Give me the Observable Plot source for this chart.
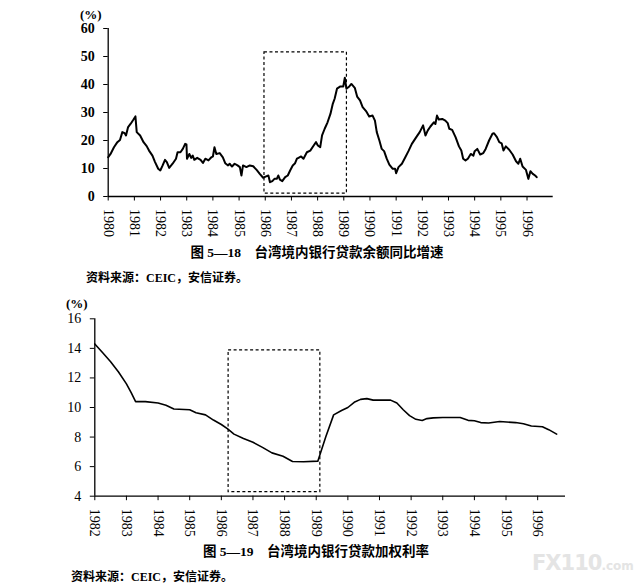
<!DOCTYPE html>
<html>
<head>
<meta charset="utf-8">
<script src="https://cdn.jsdelivr.net/npm/d3@7"></script>
<script src="https://cdn.jsdelivr.net/npm/@observablehq/plot@0.6"></script>
<style>
  body { margin: 0; background: #fff; }
  #wrap { position: relative; width: 643px; height: 585px; background: #fff; overflow: hidden; }
  .abs { position: absolute; white-space: nowrap; color: #000; }
  .unit { font-family: "Liberation Serif", "Times New Roman", Times, "DejaVu Serif", serif; font-weight: bold; font-size: 13px; }
  .title { font-family: "Liberation Serif", "Times New Roman", "Noto Sans CJK SC", serif; font-weight: bold; font-size: 13.5px; }
  .src { font-family: "Liberation Serif", "Times New Roman", "Noto Sans CJK SC", serif; font-weight: bold; font-size: 12px; }
  .wm { font-family: "DejaVu Sans", sans-serif; font-weight: bold; color: #e4e4e4; }
  .wm .big { font-size: 21px; letter-spacing: -1px; }
  .wm .small { font-size: 12px; }
  svg { overflow: visible; }
</style>
</head>
<body>
<div id="wrap"></div>
<script>
// ---------- Chart 1: 台湾境内银行贷款余额同比增速 ----------
const years1 = [1980.00,1980.09,1980.22,1980.35,1980.45,1980.54,1980.63,1980.68,1980.76,1980.86,1980.96,1981.04,1981.09,1981.22,1981.35,1981.47,1981.56,1981.69,1981.79,1981.91,1981.99,1982.08,1982.17,1982.24,1982.33,1982.46,1982.59,1982.65,1982.76,1982.85,1982.94,1982.99,1983.01,1983.10,1983.17,1983.23,1983.29,1983.40,1983.53,1983.62,1983.71,1983.83,1983.94,1984.00,1984.06,1984.13,1984.26,1984.38,1984.47,1984.58,1984.64,1984.73,1984.83,1984.94,1985.03,1985.09,1985.15,1985.28,1985.41,1985.54,1985.67,1985.79,1985.92,1986.01,1986.12,1986.18,1986.27,1986.35,1986.44,1986.50,1986.56,1986.65,1986.76,1986.86,1986.95,1987.05,1987.14,1987.21,1987.27,1987.37,1987.46,1987.59,1987.72,1987.85,1987.94,1988.01,1988.10,1988.17,1988.27,1988.38,1988.49,1988.58,1988.65,1988.74,1988.87,1988.98,1989.04,1989.10,1989.21,1989.29,1989.42,1989.51,1989.62,1989.72,1989.85,1989.97,1990.10,1990.19,1990.26,1990.36,1990.45,1990.54,1990.64,1990.74,1990.87,1990.96,1991.00,1991.09,1991.22,1991.35,1991.47,1991.60,1991.77,1991.90,1992.03,1992.12,1992.21,1992.31,1992.44,1992.50,1992.56,1992.63,1992.76,1992.88,1992.97,1993.03,1993.14,1993.27,1993.40,1993.49,1993.56,1993.65,1993.74,1993.85,1993.95,1994.00,1994.10,1994.21,1994.33,1994.42,1994.55,1994.68,1994.74,1994.85,1994.94,1995.03,1995.10,1995.19,1995.32,1995.45,1995.58,1995.67,1995.74,1995.83,1995.96,1996.05,1996.13,1996.22,1996.31,1996.37];
const values1 = [14.0,15.2,17.6,19.4,20.2,23.0,22.6,21.8,24.8,26.0,27.4,28.6,23.0,21.8,19.4,18.0,16.4,14.6,12.3,9.9,9.3,11.1,13.1,12.3,10.2,11.7,13.5,15.8,15.8,17.0,18.8,18.6,13.5,15.2,13.8,14.6,13.1,13.8,13.1,12.0,13.5,12.9,14.0,14.3,17.6,15.2,15.5,14.0,11.9,11.1,11.7,10.7,11.7,11.1,10.5,7.5,11.1,10.5,11.1,10.8,9.5,8.1,6.7,7.1,7.5,5.1,5.5,6.3,6.3,7.5,6.0,5.5,6.9,7.5,9.3,11.1,11.9,13.5,13.8,14.3,13.5,15.8,16.4,18.2,19.4,18.2,17.6,21.8,24.2,26.5,29.5,33.1,34.9,38.5,39.3,39.3,42.4,38.5,39.3,40.2,38.8,35.7,34.3,31.9,30.5,28.6,28.9,27.1,23.0,20.0,17.0,16.2,13.5,11.4,9.9,9.9,8.3,10.5,11.7,14.0,16.2,18.8,21.2,23.0,25.4,21.8,23.6,25.0,26.5,25.9,28.9,27.5,27.7,27.1,26.2,24.2,23.8,21.2,17.9,16.4,13.5,12.9,13.5,15.2,14.6,16.2,17.0,15.0,15.5,17.0,20.0,22.4,22.6,21.2,19.4,19.0,16.4,17.9,16.7,15.0,12.6,11.7,13.5,10.7,9.5,6.3,9.0,8.1,7.5,6.9];
const xTicks1 = [1980,1981,1982,1983,1984,1985,1986,1987,1988,1989,1990,1991,1992,1993,1994,1995,1996];
const yTicks1 = [0,10,20,30,40,50,60];
const xDomain1 = [1980, 1997];
const yDomain1 = [0, 60];
const box1 = {x1: [1985.97], x2: [1989.12], y1: [1.0], y2: [51.5]};

// ---------- Chart 2: 台湾境内银行贷款加权利率 ----------
const years2 = [1982.0,1982.25,1982.5,1982.75,1983.0,1983.15,1983.29,1983.6,1984.0,1984.25,1984.5,1985.0,1985.2,1985.5,1985.75,1986.0,1986.2,1986.4,1986.7,1987.0,1987.3,1987.6,1987.95,1988.25,1988.6,1989.05,1989.3,1989.55,1989.8,1990.0,1990.2,1990.4,1990.6,1990.8,1991.0,1991.35,1991.55,1991.75,1991.95,1992.15,1992.35,1992.5,1992.7,1993.0,1993.55,1993.8,1994.0,1994.2,1994.45,1994.8,1995.3,1995.55,1995.8,1996.15,1996.35,1996.6];
const values2 = [14.3,13.7,13.1,12.4,11.6,11.0,10.4,10.4,10.3,10.15,9.9,9.85,9.65,9.5,9.15,8.85,8.55,8.2,7.9,7.65,7.3,6.93,6.7,6.35,6.33,6.37,8.0,9.5,9.8,10.0,10.35,10.55,10.6,10.5,10.5,10.5,10.3,9.85,9.45,9.2,9.12,9.25,9.3,9.32,9.32,9.13,9.1,8.98,8.95,9.05,8.98,8.9,8.75,8.7,8.5,8.2];
const xTicks2 = [1982,1983,1984,1985,1986,1987,1988,1989,1990,1991,1992,1993,1994,1995,1996];
const yTicks2 = [4,6,8,10,12,14,16];
const xDomain2 = [1982, 1996.88];
const yDomain2 = [4, 16];
const box2 = {x1: [1986.23], x2: [1989.13], y1: [4.27], y2: [13.86]};

const SERIF = '"Liberation Serif", "Times New Roman", Times, "DejaVu Serif", serif';
const wrap = document.getElementById("wrap");

function makeChart(cfg) {
  const data = cfg.years.map((x, i) => ({x, y: cfg.values[i]}));
  const box = cfg.box.x1.map((d, i) => ({x1: d, x2: cfg.box.x2[i], y1: cfg.box.y1[i], y2: cfg.box.y2[i]}));
  const svg = Plot.plot({
    width: 643,
    height: cfg.height,
    marginLeft: cfg.marginLeft,
    marginRight: cfg.marginRight,
    marginTop: cfg.marginTop,
    marginBottom: cfg.marginBottom,
    style: {background: "transparent", color: "#000", overflow: "visible", fontFamily: SERIF},
    x: {domain: cfg.xDomain},
    y: {domain: cfg.yDomain},
    marks: [
      Plot.rect(box, {x1: "x1", x2: "x2", y1: "y1", y2: "y2", fill: "none", stroke: "#000", strokeWidth: 1.2, strokeDasharray: "3,2.5"}),
      Plot.ruleY([cfg.yDomain[0]], {stroke: "#000", strokeWidth: 1.3}),
      Plot.ruleX([cfg.xDomain[0]], {stroke: "#000", strokeWidth: 1.3}),
      Plot.axisY({ticks: cfg.yTicks, tickSize: 4.5, tickPadding: 9, tickFormat: d => String(d),
        fontSize: cfg.yFont, fontFamily: SERIF, fontWeight: cfg.yBold ? "bold" : "normal"}),
      Plot.axisX({ticks: cfg.xTicks, tickSize: 4.5, tickPadding: 8, tickRotate: 90, tickFormat: d => String(d),
        fontSize: 14, fontFamily: SERIF, label: null}),
      Plot.line(data, {x: "x", y: "y", stroke: "#000", strokeWidth: cfg.lineWidth, strokeLinejoin: "round", curve: "linear"})
    ]
  });
  svg.style.position = "absolute";
  svg.style.left = "0px";
  svg.style.top = cfg.top + "px";
  svg.querySelectorAll("text").forEach(t => t.style.fontFamily = SERIF);
  wrap.appendChild(svg);
}

makeChart({
  years: years1, values: values1, xTicks: xTicks1, yTicks: yTicks1, xDomain: xDomain1, yDomain: yDomain1, box: box1,
  top: 0, height: 240, marginLeft: 107.7, marginRight: 90.3, marginTop: 28, marginBottom: 44, lineWidth: 2, yBold: true, yFont: 14
});
makeChart({
  years: years2, values: values2, xTicks: xTicks2, yTicks: yTicks2, xDomain: xDomain2, yDomain: yDomain2, box: box2,
  top: 290, height: 250, marginLeft: 94.3, marginRight: 78, marginTop: 28.3, marginBottom: 44.3, lineWidth: 1.6, yBold: false, yFont: 14
});

function addText(cls, txt, left, top, center) {
  const d = document.createElement("div");
  d.className = "abs " + cls;
  d.textContent = txt;
  d.style.left = left + "px";
  d.style.top = top + "px";
  if (center) d.style.transform = "translateX(-50%)";
  wrap.appendChild(d);
  return d;
}

addText("unit", "(%)", 80, 7);
addText("title", "图 5—18\u3000台湾境内银行贷款余额同比增速", 317, 241, true);
addText("src", "资料来源：CEIC，安信证券。", 86, 268);
addText("unit", "(%)", 66, 296);
addText("title", "图 5—19\u3000台湾境内银行贷款加权利率", 316, 540, true);
addText("src", "资料来源：CEIC，安信证券。", 71, 567);
const wm = addText("wm", "", 532, 551);
const b = document.createElement("span"); b.className = "big"; b.textContent = "FX110"; wm.appendChild(b);
const s = document.createElement("span"); s.className = "small"; s.textContent = ".com"; wm.appendChild(s);
</script>
</body>
</html>
